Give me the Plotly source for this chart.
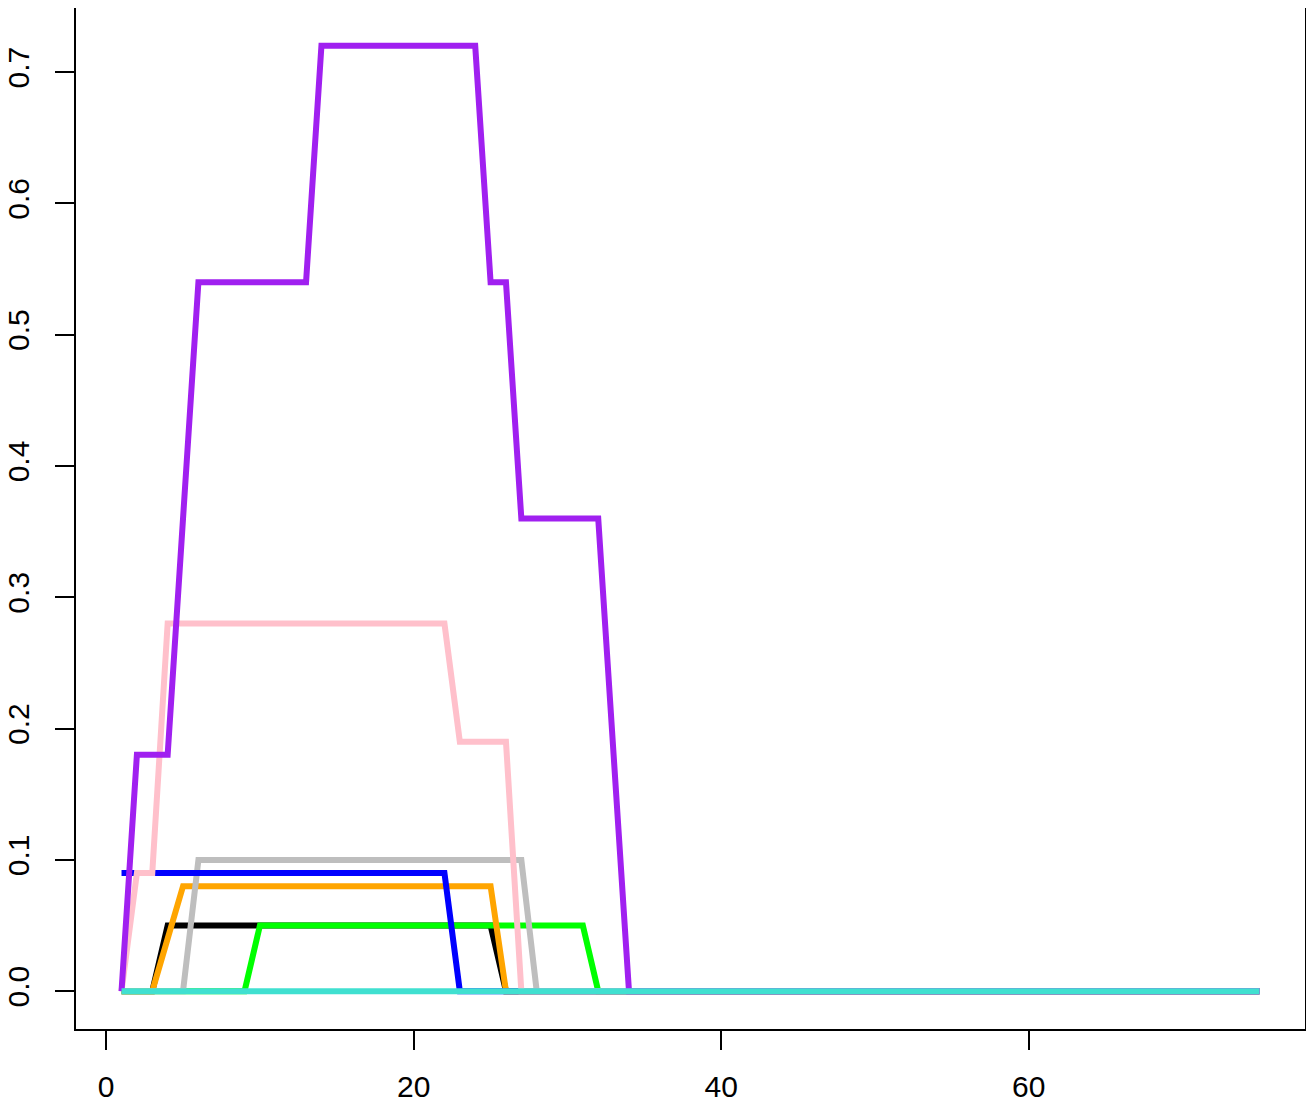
import plotly.graph_objects as go

x = list(range(1, 76))

black = [0, 0, 0, 0.05, 0.05, 0.05, 0.05, 0.05, 0.05, 0.05,
         0.05, 0.05, 0.05, 0.05, 0.05, 0.05, 0.05, 0.05, 0.05, 0.05,
         0.05, 0.05, 0.05, 0.05, 0.05, 0, 0, 0, 0, 0,
         0, 0, 0, 0, 0, 0, 0, 0, 0, 0,
         0, 0, 0, 0, 0, 0, 0, 0, 0, 0,
         0, 0, 0, 0, 0, 0, 0, 0, 0, 0,
         0, 0, 0, 0, 0, 0, 0, 0, 0, 0,
         0, 0, 0, 0, 0]
green = [0, 0, 0, 0, 0, 0, 0, 0, 0, 0.05,
         0.05, 0.05, 0.05, 0.05, 0.05, 0.05, 0.05, 0.05, 0.05, 0.05,
         0.05, 0.05, 0.05, 0.05, 0.05, 0.05, 0.05, 0.05, 0.05, 0.05,
         0.05, 0, 0, 0, 0, 0, 0, 0, 0, 0,
         0, 0, 0, 0, 0, 0, 0, 0, 0, 0,
         0, 0, 0, 0, 0, 0, 0, 0, 0, 0,
         0, 0, 0, 0, 0, 0, 0, 0, 0, 0,
         0, 0, 0, 0, 0]
orange = [0, 0, 0, 0.04, 0.08, 0.08, 0.08, 0.08, 0.08, 0.08,
          0.08, 0.08, 0.08, 0.08, 0.08, 0.08, 0.08, 0.08, 0.08, 0.08,
          0.08, 0.08, 0.08, 0.08, 0.08, 0, 0, 0, 0, 0,
          0, 0, 0, 0, 0, 0, 0, 0, 0, 0,
          0, 0, 0, 0, 0, 0, 0, 0, 0, 0,
          0, 0, 0, 0, 0, 0, 0, 0, 0, 0,
          0, 0, 0, 0, 0, 0, 0, 0, 0, 0,
          0, 0, 0, 0, 0]
gray = [0, 0, 0, 0, 0, 0.1, 0.1, 0.1, 0.1, 0.1,
        0.1, 0.1, 0.1, 0.1, 0.1, 0.1, 0.1, 0.1, 0.1, 0.1,
        0.1, 0.1, 0.1, 0.1, 0.1, 0.1, 0.1, 0, 0, 0,
        0, 0, 0, 0, 0, 0, 0, 0, 0, 0,
        0, 0, 0, 0, 0, 0, 0, 0, 0, 0,
        0, 0, 0, 0, 0, 0, 0, 0, 0, 0,
        0, 0, 0, 0, 0, 0, 0, 0, 0, 0,
        0, 0, 0, 0, 0]
blue = [0.09, 0.09, 0.09, 0.09, 0.09, 0.09, 0.09, 0.09, 0.09, 0.09,
        0.09, 0.09, 0.09, 0.09, 0.09, 0.09, 0.09, 0.09, 0.09, 0.09,
        0.09, 0.09, 0, 0, 0, 0, 0, 0, 0, 0,
        0, 0, 0, 0, 0, 0, 0, 0, 0, 0,
        0, 0, 0, 0, 0, 0, 0, 0, 0, 0,
        0, 0, 0, 0, 0, 0, 0, 0, 0, 0,
        0, 0, 0, 0, 0, 0, 0, 0, 0, 0,
        0, 0, 0, 0, 0]
pink = [0, 0.09, 0.09, 0.28, 0.28, 0.28, 0.28, 0.28, 0.28, 0.28,
        0.28, 0.28, 0.28, 0.28, 0.28, 0.28, 0.28, 0.28, 0.28, 0.28,
        0.28, 0.28, 0.19, 0.19, 0.19, 0.19, 0, 0, 0, 0,
        0, 0, 0, 0, 0, 0, 0, 0, 0, 0,
        0, 0, 0, 0, 0, 0, 0, 0, 0, 0,
        0, 0, 0, 0, 0, 0, 0, 0, 0, 0,
        0, 0, 0, 0, 0, 0, 0, 0, 0, 0,
        0, 0, 0, 0, 0]
purple = [0, 0.18, 0.18, 0.18, 0.36, 0.54, 0.54, 0.54, 0.54, 0.54,
          0.54, 0.54, 0.54, 0.72, 0.72, 0.72, 0.72, 0.72, 0.72, 0.72,
          0.72, 0.72, 0.72, 0.72, 0.54, 0.54, 0.36, 0.36, 0.36, 0.36,
          0.36, 0.36, 0.18, 0, 0, 0, 0, 0, 0, 0,
          0, 0, 0, 0, 0, 0, 0, 0, 0, 0,
          0, 0, 0, 0, 0, 0, 0, 0, 0, 0,
          0, 0, 0, 0, 0, 0, 0, 0, 0, 0,
          0, 0, 0, 0, 0]
turquoise = [0, 0, 0, 0, 0, 0, 0, 0, 0, 0,
             0, 0, 0, 0, 0, 0, 0, 0, 0, 0,
             0, 0, 0, 0, 0, 0, 0, 0, 0, 0,
             0, 0, 0, 0, 0, 0, 0, 0, 0, 0,
             0, 0, 0, 0, 0, 0, 0, 0, 0, 0,
             0, 0, 0, 0, 0, 0, 0, 0, 0, 0,
             0, 0, 0, 0, 0, 0, 0, 0, 0, 0,
             0, 0, 0, 0, 0]

series = [
    (black, "#000000"),
    (green, "#00FF00"),
    (orange, "#FFA500"),
    (gray, "#BEBEBE"),
    (blue, "#0000FF"),
    (pink, "#FFC0CB"),
    (purple, "#A020F0"),
    (turquoise, "#40E0D0"),
]

x_ticks = [0, 20, 40, 60]
y_ticks = [0.0, 0.1, 0.2, 0.3, 0.4, 0.5, 0.6, 0.7]

fig = go.Figure()
for vals, col in series:
    fig.add_trace(go.Scatter(x=x, y=vals, mode="lines",
                             line=dict(color=col, width=6),
                             showlegend=False, hoverinfo="skip"))

font = dict(family="Liberation Sans, Arial, sans-serif", size=30, color="black")
# page body has an 8px default margin, so the figure is sized to fit the window
fig.update_layout(
    width=1306, height=1093,
    margin=dict(l=68, r=9, t=0, b=72),
    paper_bgcolor="white", plot_bgcolor="white",
    font=font,
    showlegend=False,
)
fig.update_xaxes(range=[-1.96, 77.96], tickvals=x_ticks,
                 ticktext=[str(v) for v in x_ticks],
                 ticks="outside", ticklen=19, tickwidth=1.5, tickcolor="black",
                 showline=True, mirror=True, linecolor="black", linewidth=1.5,
                 showgrid=False, zeroline=False, ticklabelstandoff=11,
                 automargin=False)
fig.update_yaxes(range=[-0.0288, 0.7488], tickvals=y_ticks,
                 ticktext=[f"{v:.1f}" for v in y_ticks],
                 ticks="outside", ticklen=19, tickwidth=1.5, tickcolor="black",
                 showline=True, mirror=True, linecolor="black", linewidth=1.5,
                 showgrid=False, zeroline=False, tickangle=-90,
                 ticklabelstandoff=14, automargin=False)

fig.write_html("out.html")
